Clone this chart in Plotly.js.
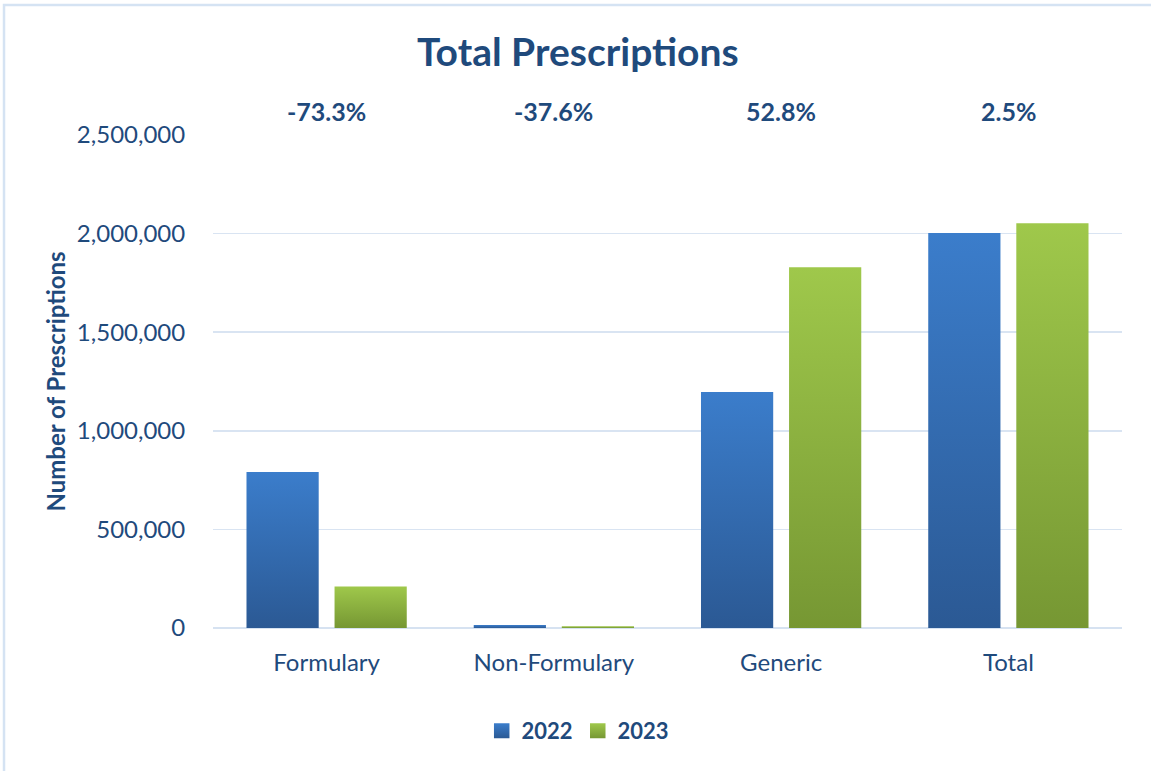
<!DOCTYPE html>
<html>
<head>
<meta charset="utf-8">
<script src="https://cdn.plot.ly/plotly-3.0.1.min.js"></script>
<style>
html,body{margin:0;padding:0;background:#fff;}
#chart{width:1151px;height:771px;}
</style>
</head>
<body>
<div id="chart"></div>
<script>
const categories = ["Formulary", "Non-Formulary", "Generic", "Total"];
const values2022 = [791000, 15000, 1197000, 2003000];
const values2023 = [211000, 9360, 1829000, 2053000];
const changeLabels = ["-73.3%", "-37.6%", "52.8%", "2.5%"];
const seriesNames = ["2022", "2023"];
const yTickVals = [0, 500000, 1000000, 1500000, 2000000, 2500000];
const yTickText = ["0", "500,000", "1,000,000", "1,500,000", "2,000,000", "2,500,000"];

const TXT = "#1F4A7C";
const FONT = "Lato, 'Open Sans', sans-serif";

const traces = [
  {type: "bar", name: "<b>" + seriesNames[0] + "</b>", x: categories, y: values2022,
   marker: {color: "#3470B8"}, hoverinfo: "skip"},
  {type: "bar", name: "<b>" + seriesNames[1] + "</b>", x: categories, y: values2023,
   marker: {color: "#8CB540"}, hoverinfo: "skip"}
];

const annotations = categories.map((c, i) => ({
  x: c, xref: "x", y: 1.0487, yref: "paper", yanchor: "middle",
  text: "<b>" + changeLabels[i] + "</b>", showarrow: false,
  font: {family: FONT, size: 25, color: TXT}
}));

const layout = {
  width: 1151, height: 771,
  margin: {l: 213, r: 29, t: 135, b: 143},
  paper_bgcolor: "#ffffff", plot_bgcolor: "#ffffff",
  font: {family: FONT, color: TXT},
  title: {text: "<b>Total Prescriptions</b>", x: 0.502, xanchor: "center",
          y: 0.9326, yanchor: "middle", yref: "container",
          font: {family: FONT, size: 39, color: TXT}},
  bargap: 0.225, bargroupgap: 0.18,
  xaxis: {type: "category", showgrid: false, showline: false, zeroline: false,
          ticks: "outside", ticklen: 13, tickcolor: "rgba(0,0,0,0)",
          tickfont: {family: FONT, size: 24, color: TXT}},
  yaxis: {range: [0, 2500000], tickvals: yTickVals, ticktext: yTickText,
          showgrid: true, gridcolor: "#D9E4F2", gridwidth: 1.5,
          zeroline: true, zerolinecolor: "#D6E2F1", zerolinewidth: 2.5,
          showline: false, ticks: "outside", ticklen: 22, tickcolor: "rgba(0,0,0,0)",
          tickfont: {family: FONT, size: 24, color: TXT},
          title: {text: "<b>Number of Prescriptions</b>", standoff: 4,
                  font: {family: FONT, size: 24, color: TXT}}},
  legend: {orientation: "h", x: 0.4015, xanchor: "center", y: -0.209, yanchor: "middle",
           font: {family: FONT, size: 22, color: TXT}, traceorder: "normal",
           itemwidth: 30, itemsizing: "constant"},
  annotations: annotations,
  shapes: [{type: "rect", xref: "paper", yref: "paper",
            x0: -0.2299, x1: 1.2, y0: -0.5, y1: 1.2637,
            line: {color: "#D5E3F3", width: 2.5}, fillcolor: "rgba(0,0,0,0)", layer: "below"}],
  showlegend: true
};

Plotly.newPlot("chart", traces, layout, {staticPlot: true, displayModeBar: false}).then(function(gd){
  const NS = "http://www.w3.org/2000/svg";
  const svg = gd.querySelector(".main-svg");
  let defs = svg.querySelector("defs");
  if (!defs) { defs = document.createElementNS(NS, "defs"); svg.insertBefore(defs, svg.firstChild); }
  const grads = [["#3B7DCB", "#2B5994"], ["#9FC84B", "#769733"]];
  grads.forEach(function(g, i){
    const lg = document.createElementNS(NS, "linearGradient");
    lg.setAttribute("id", "barGrad" + i);
    lg.setAttribute("x1", "0"); lg.setAttribute("y1", "0");
    lg.setAttribute("x2", "0"); lg.setAttribute("y2", "1");
    [[0, g[0]], [1, g[1]]].forEach(function(s){
      const st = document.createElementNS(NS, "stop");
      st.setAttribute("offset", s[0]); st.setAttribute("stop-color", s[1]);
      lg.appendChild(st);
    });
    defs.appendChild(lg);
  });
  gd.querySelectorAll(".barlayer .trace").forEach(function(tr, i){
    tr.querySelectorAll("path").forEach(function(p){ p.style.fill = "url(#barGrad" + i + ")"; });
  });
  gd.querySelectorAll(".legend .traces").forEach(function(tr, i){
    tr.querySelectorAll(".legendpoints path").forEach(function(p){
      p.style.fill = "url(#barGrad" + i + ")";
      p.setAttribute("d", "M8,7.5H-7.5V-7.5H8Z");
    });
  });
});
</script>
</body>
</html>
